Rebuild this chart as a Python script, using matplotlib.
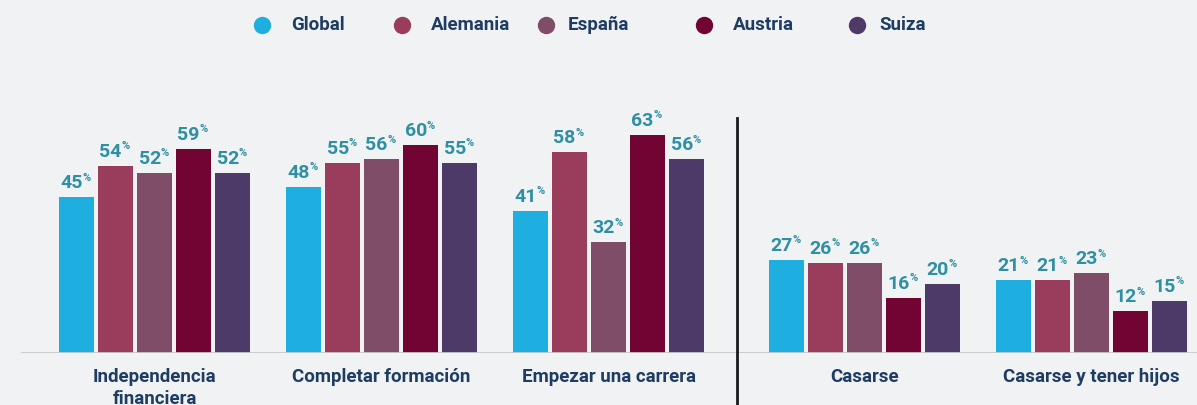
import matplotlib
matplotlib.use("Agg")
import matplotlib.pyplot as plt
from matplotlib.lines import Line2D
import numpy as np

categories = ["Independencia\nfinanciera", "Completar formación", "Empezar una carrera",
              "Casarse", "Casarse y tener hijos"]
series = ["Global", "Alemania", "España", "Austria", "Suiza"]
values = {
    "Global":   [45, 48, 41, 27, 21],
    "Alemania": [54, 55, 58, 26, 21],
    "España":   [52, 56, 32, 26, 23],
    "Austria":  [59, 60, 63, 16, 12],
    "Suiza":    [52, 55, 56, 20, 15],
}
colors = ["#1eaee0", "#9a3d5d", "#7f4d68", "#720434", "#4d3a68"]

bg = "#f1f2f4"
navy = "#1f3d63"
teal = "#2e90a2"
plt.rcParams["font.family"] = ["Roboto", "DejaVu Sans"]

W, H = 1197, 405
fig = plt.figure(figsize=(W / 100, H / 100), dpi=100, facecolor=bg)
base_px = 353
px_per_unit = 3.46
ax = fig.add_axes([0, (H - base_px) / H, 1, base_px / H])
ax.set_facecolor(bg)

group_step = 227.0
x0 = 154.5
ax.set_xlim((0 - x0) / group_step, (W - x0) / group_step)
ax.set_ylim(0, base_px / px_per_unit)

# group centers (gap before the last two groups for the divider)
centers = np.array([0, 1, 2, 3.128, 4.128])
bw = 35 / group_step
step = 39 / group_step

for i, (name, col) in enumerate(zip(series, colors)):
    xs = centers + (i - 2) * step
    vals = values[name]
    ax.bar(xs, vals, width=bw, color=col, zorder=2)
    for x, v in zip(xs, vals):
        ax.annotate(str(v), (x, v), xytext=(4.5, 6.5), textcoords="offset points",
                    ha="right", va="baseline", fontsize=14, fontweight="bold",
                    color=teal)
        ax.annotate("%", (x, v), xytext=(4.0, 12.0), textcoords="offset points",
                    ha="left", va="baseline", fontsize=8, fontweight="bold",
                    color=teal)

ax.axhline(0, xmin=22 / W, xmax=1, color="#c8c9cb", lw=2, zorder=3)

# divider
div_x = (737 - x0) / group_step
ax.plot([div_x, div_x], [(base_px - 118) / px_per_unit, -60 / px_per_unit],
        color="#1a1a1a", lw=2, clip_on=False, zorder=3)

for c, lab in zip(centers, categories):
    ax.annotate(lab, (c, 0), xytext=(0, -10.5), textcoords="offset points",
                ha="center", va="top", fontsize=13.5, fontweight="bold",
                color=navy, linespacing=1.3, annotation_clip=False)

for sp in ax.spines.values():
    sp.set_visible(False)
ax.set_xticks([])
ax.set_yticks([])

# legend
mark_x = [262, 402, 546, 704, 857]
text_x = [291, 431, 568, 733, 879]
ly = 25
for mx, tx, name, col in zip(mark_x, text_x, series, colors):
    fig.add_artist(Line2D([mx / W], [1 - ly / H], marker="o", markersize=11.5,
                          color=col, transform=fig.transFigure, linestyle="none"))
    fig.text(tx / W, 1 - ly / H, name, ha="left", va="center", fontsize=13.5,
             fontweight="bold", color=navy)

fig.savefig("out.png", dpi=100, facecolor=bg)
